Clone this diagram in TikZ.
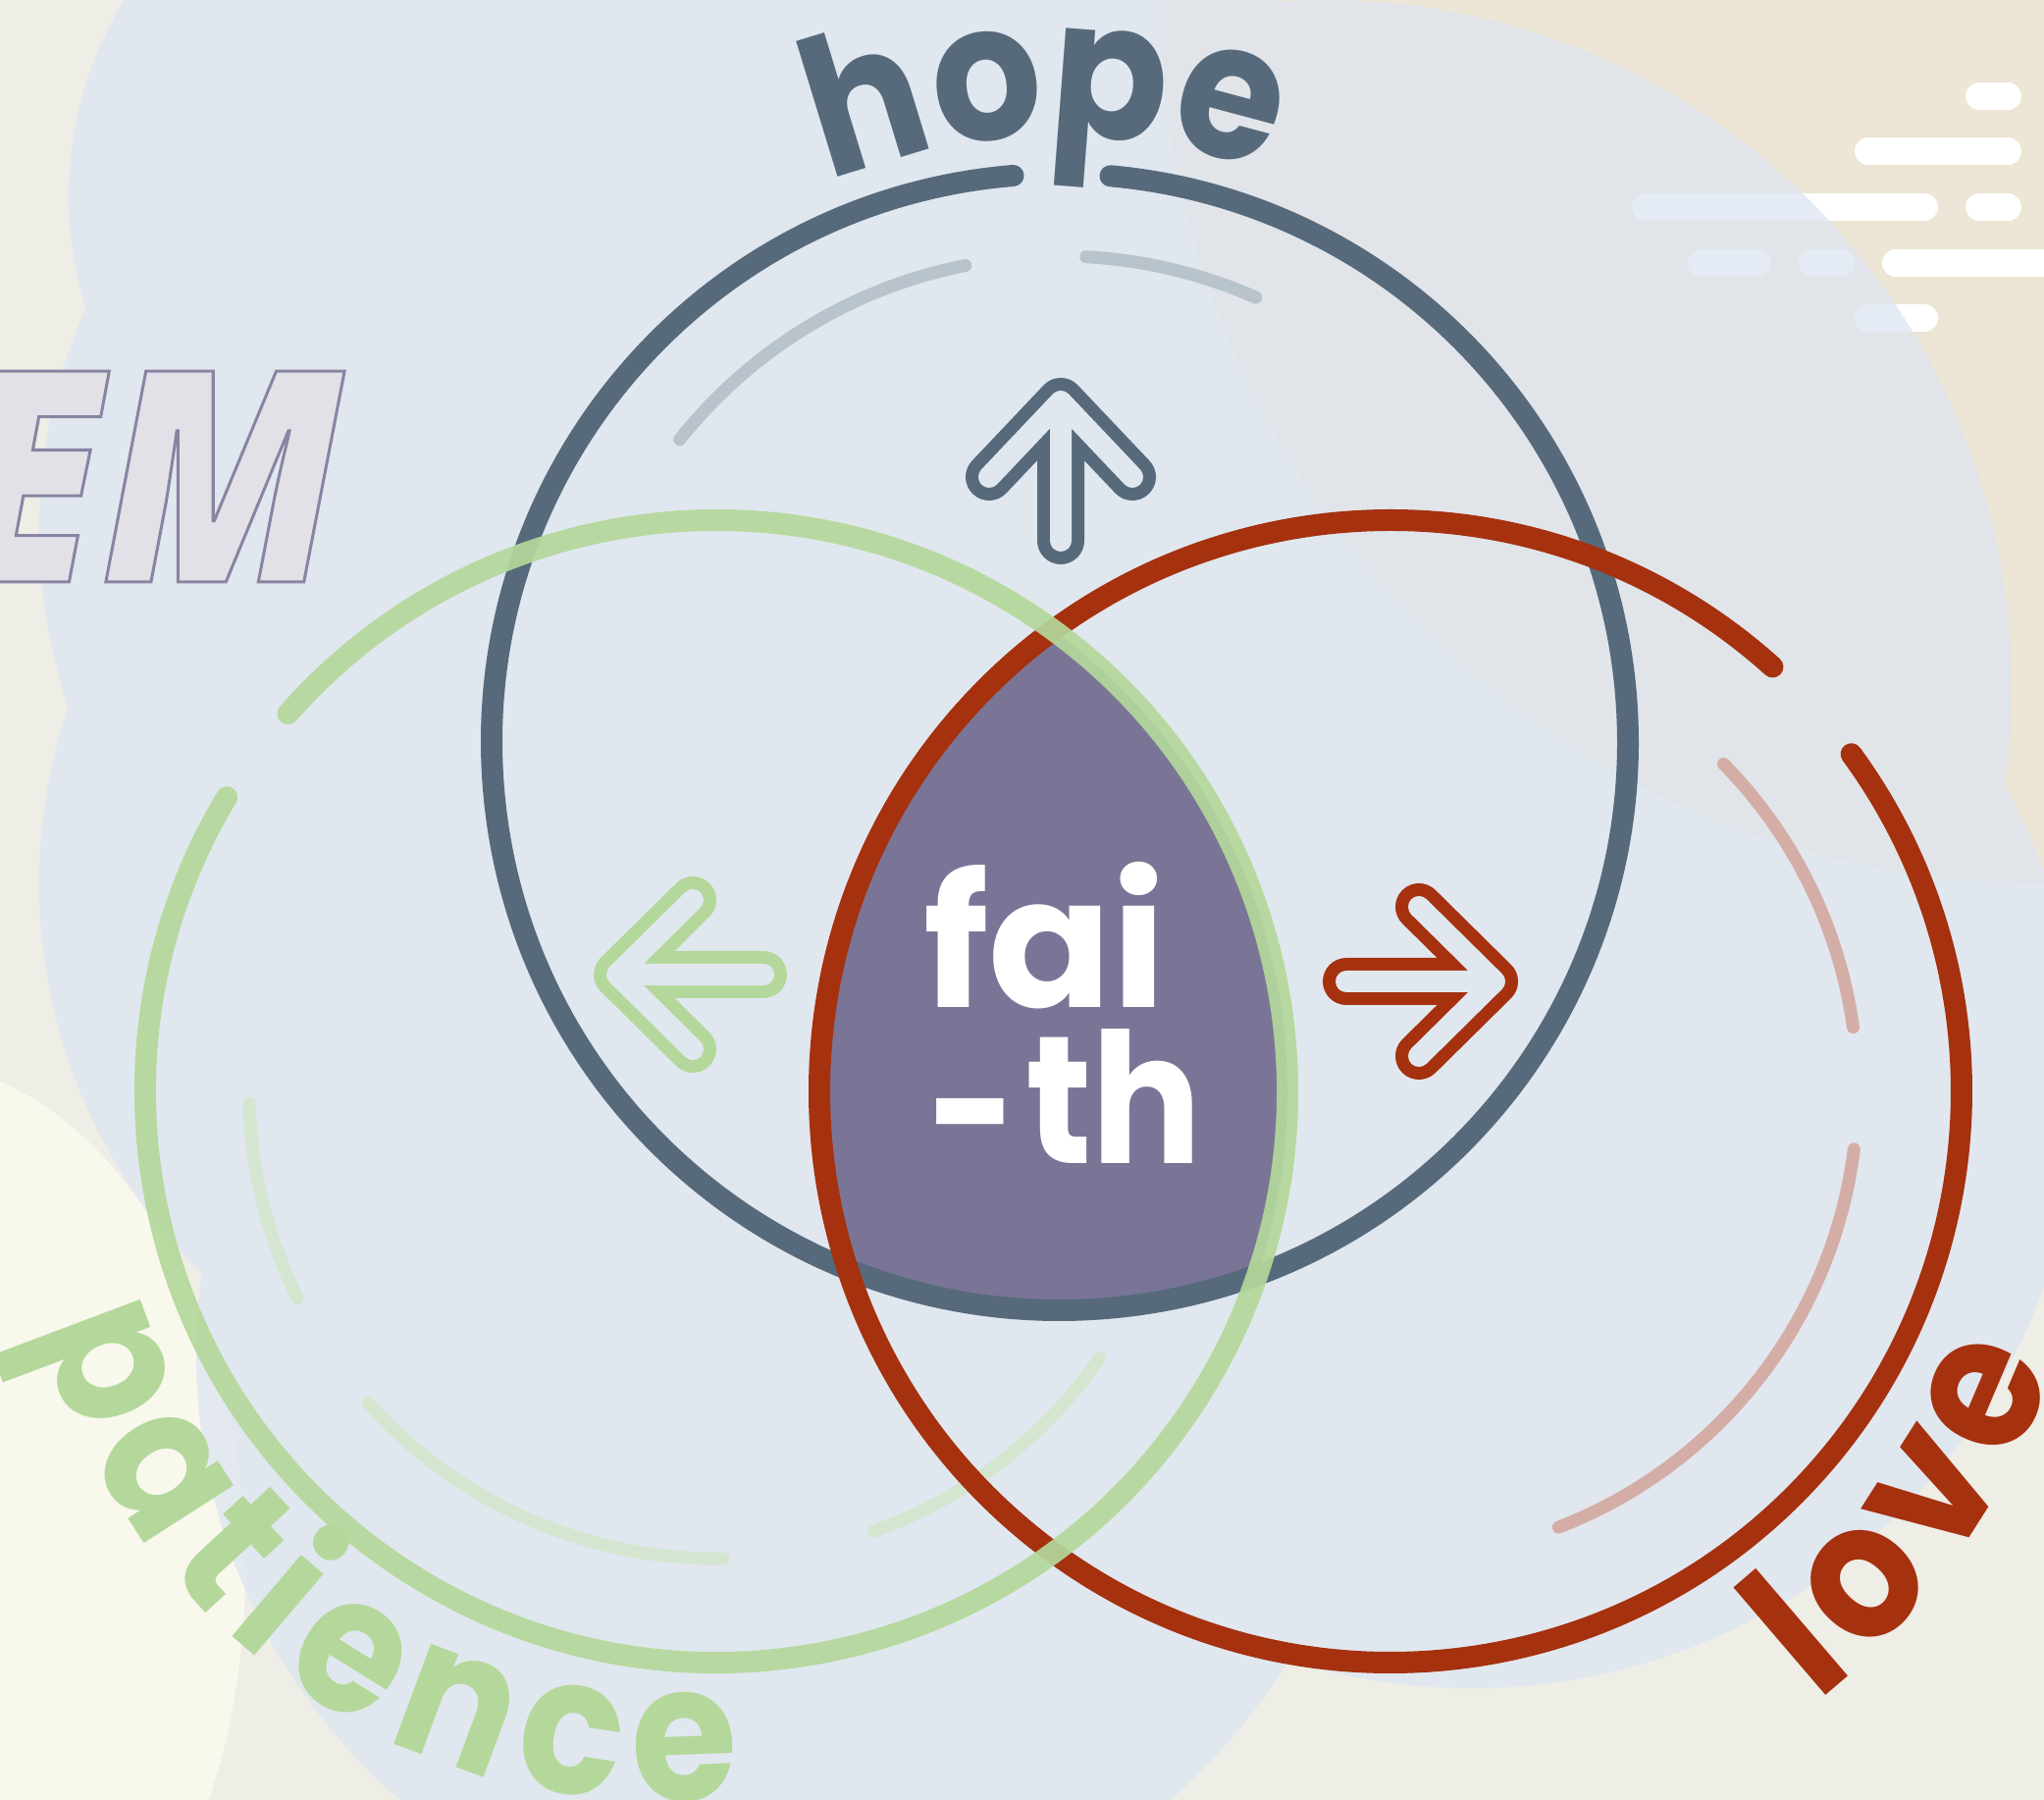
\documentclass[tikz,border=0pt]{standalone}
\usepackage{fontspec}
\setmainfont{Poppins}
\newfontfamily\popn{Poppins}[FakeStretch=0.9]
\IfFontExistsTF{Open Sans ExtraBold Italic}
  {\newfontfamily\emfont{Open Sans ExtraBold Italic}[FakeStretch=0.9]\def\emsz{301}}
  {\IfFontExistsTF{Open Sans Extrabold Italic}
    {\newfontfamily\emfont{Open Sans Extrabold Italic}[FakeStretch=0.9]\def\emsz{301}}
    {\IfFontExistsTF{Lato Black Italic}
      {\newfontfamily\emfont{Lato Black Italic}[FakeStretch=0.9]\def\emsz{300}}
      {\newfontfamily\emfont{Poppins Black Italic}[FakeStretch=0.85]\def\emsz{308}}}}
\newcommand\emstyle{\fontsize{\emsz}{\emsz}\selectfont}
\usetikzlibrary{decorations.text}
\definecolor{hopec}{HTML}{566A7C}
\definecolor{greenc}{HTML}{B4D89B}
\definecolor{redc}{HTML}{A5310F}
\definecolor{purplec}{HTML}{7A7596}
\definecolor{hopein}{HTML}{B8C3CC}
\definecolor{greenin}{HTML}{D4E6D0}
\definecolor{redin}{HTML}{D4AEA6}
\definecolor{basec}{HTML}{EEEDE6}
\definecolor{warmc}{HTML}{EDE5D5}
\definecolor{creamc}{HTML}{F8F8ED}
\definecolor{blobc}{HTML}{DDE5F1}
\definecolor{bgmix}{RGB}{225,231,238}
\definecolor{emfill}{HTML}{E1E1E7}
\newcommand\lblfont{\popn\fontsize{195}{195}\selectfont\bfseries}
\newcommand\faifont{\fontsize{185}{185}\selectfont\bfseries}
\tikzset{
  ring/.style={line width=22pt, line cap=round},
  innerarc/.style={line width=13pt, line cap=round},
  dashline/.style={white, line width=28pt, line cap=round},
  arrowout/.style={line width=13pt, double=bgmix, double distance=22pt, line cap=round, line join=round},
}
\begin{document}
\begin{tikzpicture}[x=1pt,y=1pt]
\useasboundingbox (0,0) rectangle (2083,1834);
% background
\fill[basec] (0,0) rectangle (2083,1834);
\fill[warmc] (2083,1834) circle[radius=900pt];
\fill[creamc] (-100,234) ellipse[x radius=350pt, y radius=520pt];
\draw[dashline] (2017,1736) -- (2046,1736);
\draw[dashline] (1904,1680) -- (2046,1680);
\draw[dashline] (1677,1623) -- (1961,1623);
\draw[dashline] (2017,1623) -- (2046,1623);
\draw[dashline] (1734,1566) -- (1791,1566);
\draw[dashline] (1847,1566) -- (1876,1566);
\draw[dashline] (1932,1566) -- (2110,1566);
\draw[dashline] (1904,1510) -- (1961,1510);
\fill[blobc, fill opacity=0.75]
  (450,1634) circle[radius=380pt]
  (600,1294) circle[radius=560pt]
  (900,1384) circle[radius=600pt]
  (1350,1134) circle[radius=700pt]
  (600,934) circle[radius=560pt]
  (1000,934) circle[radius=700pt]
  (1500,734) circle[radius=620pt]
  (800,454) circle[radius=600pt];
% EM
\node[anchor=base east, inner sep=0, text=emfill, font=\emfont\emstyle] (em) at (350,1241)
  {\special{pdf:literal direct 2 Tr 3 w 0.533 0.518 0.635 RG}EM\special{pdf:literal direct 0 Tr}};
% centres
\coordinate (hopeC) at (1080,1078);
\coordinate (patC) at (730,722);
\coordinate (loveC) at (1417,722);
\coordinate (patT) at (676,659);
\coordinate (loveT) at (1386.5,684);
% inner arcs
\draw[innerarc, hopein] ([shift={(101.2:495pt)}]hopeC) arc[start angle=101.2, end angle=141.5, radius=495pt];
\draw[innerarc, hopein] ([shift={(66.2:495pt)}]hopeC) arc[start angle=66.2, end angle=86.9, radius=495pt];
\draw[innerarc, greenin] ([shift={(181.5:476pt)}]patC) arc[start angle=181.5, end angle=206.3, radius=476pt];
\draw[innerarc, greenin] ([shift={(221.8:476pt)}]patC) arc[start angle=221.8, end angle=270.8, radius=476pt];
\draw[innerarc, greenin] ([shift={(289.7:476pt)}]patC) arc[start angle=289.7, end angle=325.2, radius=476pt];
\draw[innerarc, redin] ([shift={(7.9:476pt)}]loveC) arc[start angle=7.9, end angle=44.5, radius=476pt];
\draw[innerarc, redin] ([shift={(-68.9:476pt)}]loveC) arc[start angle=-68.9, end angle=-7.1, radius=476pt];
% faith region
\begin{scope}
\clip (hopeC) circle[radius=579pt];
\clip (patC) circle[radius=582pt];
\fill[purplec] (loveC) circle[radius=582pt];
\end{scope}
% rings
\draw[ring, hopec] ([shift={(94.7:579pt)}]hopeC) arc[start angle=94.7, end angle=444.9, radius=579pt];
\draw[ring, redc] ([shift={(48.0:582pt)}]loveC) arc[start angle=48.0, end angle=396.2, radius=582pt];
\draw[ring, greenc, draw opacity=0.92] ([shift={(149.0:582pt)}]patC) arc[start angle=149.0, end angle=498.6, radius=582pt];
% arrows
\coordinate (upBot) at (1081,1283); \coordinate (upTip) at (1081,1425);
\coordinate (upL) at (1008,1348); \coordinate (upR) at (1154,1348);
\draw[arrowout, hopec] (upBot) -- (upTip) (upL) -- (upTip) -- (upR);
\coordinate (lfEnd) at (778,841); \coordinate (lfTip) at (629,841);
\coordinate (lfU) at (706,917); \coordinate (lfD) at (706,765);
\draw[arrowout, greenc] (lfEnd) -- (lfTip) (lfU) -- (lfTip) -- (lfD);
\coordinate (rtEnd) at (1372,834); \coordinate (rtTip) at (1523,834);
\coordinate (rtU) at (1446,910); \coordinate (rtD) at (1446,758);
\draw[arrowout, redc] (rtEnd) -- (rtTip) (rtU) -- (rtTip) -- (rtD);
% faith text
\node[anchor=base west, inner sep=0, text=white, font=\faifont] (fai) at (941,807) {fai};
\node[anchor=base west, inner sep=0, text=white, font=\faifont] (th) at (946,648) {\raisebox{-12pt}{\scalebox{0.84}[1]{-}}\kern9pt{\popn th}};
% curved labels
\path[decorate, decoration={text along path, text={|\lblfont\color{hopec}|hope}, text align=fit to path}]
  ([shift={(112.5:617pt)}]hopeC) arc[start angle=112.5, end angle=71, radius=617pt];
\path[decorate, decoration={text along path, text={|\lblfont\color{greenc}|patience}, text align=fit to path}]
  ([shift={(195.5:660pt)}]patT) arc[start angle=195.5, end angle=276.7, radius=660pt];
\path[decorate, decoration={text along path, text={|\lblfont\color{redc}|love}, text align=fit to path}]
  ([shift={(-51.4:747pt)}]loveT) arc[start angle=-51.4, end angle=-18.9, radius=747pt];
\end{tikzpicture}
\end{document}
